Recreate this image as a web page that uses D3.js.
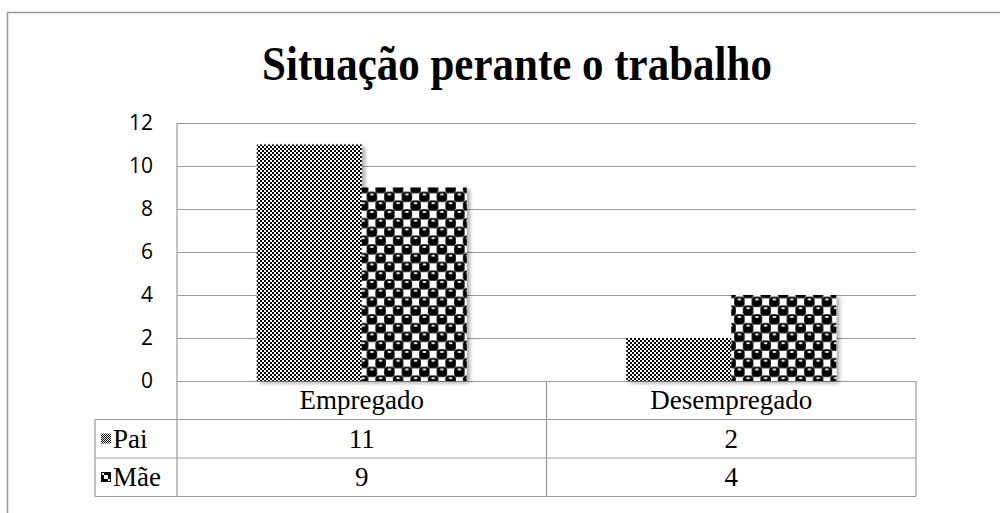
<!DOCTYPE html>
<html>
<head>
<meta charset="utf-8">
<script src="https://cdn.jsdelivr.net/npm/d3@7"></script>
<style>
  body { margin: 0; background: #fff; }
  svg { display: block; }
  .serif { font-family: "Liberation Serif", "Times New Roman", "DejaVu Serif", serif; }
</style>
</head>
<body>
<div id="container"></div>
<script>
/* DATA */
const categories = ["Empregado", "Desempregado"];
const seriesNames = ["Pai", "M\u00e3e"];
const paiValues = [11, 2];
const maeValues = [9, 4];
const yTicks = [0, 2, 4, 6, 8, 10, 12];
const title = "Situa\u00e7\u00e3o perante o trabalho";

/* CONSTANTS */
const width = 1000, height = 513;
const plot = {left: 177, right: 916, top: 123, bottom: 381};
const rowH = 38.5;
const legendLeft = 95;

const svg = d3.select("#container").append("svg")
  .attr("width", width)
  .attr("height", height);

const defs = svg.append("defs");

// fine checkerboard for Pai
const p1 = defs.append("pattern")
  .attr("id", "patPai").attr("patternUnits", "userSpaceOnUse")
  .attr("width", 4).attr("height", 4);
p1.append("rect").attr("width", 4).attr("height", 4).attr("fill", "#fff");
p1.append("rect").attr("width", 2).attr("height", 2).attr("fill", "#000");
p1.append("rect").attr("x", 2).attr("y", 2).attr("width", 2).attr("height", 2).attr("fill", "#000");

// sphere pattern for Mae
const ps = 17.5, h = ps / 2, s = 10.4;
const p2 = defs.append("pattern")
  .attr("id", "patMae").attr("patternUnits", "userSpaceOnUse")
  .attr("width", ps).attr("height", ps);
p2.append("rect").attr("width", ps).attr("height", ps).attr("fill", "#fff");
[[h / 2, h / 2], [h * 1.5, h * 1.5], [h * 1.5, -h / 2], [-h / 2, h * 1.5], [ps + h / 2, h / 2], [h / 2, ps + h / 2]].forEach(c => {
  p2.append("rect").attr("x", c[0] - s / 2).attr("y", c[1] - s / 2)
    .attr("width", s).attr("height", s).attr("rx", 3.4).attr("fill", "#000");
  p2.append("ellipse").attr("cx", c[0]).attr("cy", c[1] - 2.4).attr("rx", 2).attr("ry", 0.9).attr("fill", "#fff");
});

// small legend version
const lp1 = defs.append("pattern")
  .attr("id", "legPai").attr("patternUnits", "userSpaceOnUse")
  .attr("width", 2).attr("height", 2);
lp1.append("rect").attr("width", 2).attr("height", 2).attr("fill", "#fff");
lp1.append("rect").attr("width", 1).attr("height", 1).attr("fill", "#000");
lp1.append("rect").attr("x", 1).attr("y", 1).attr("width", 1).attr("height", 1).attr("fill", "#000");

const shadow = defs.append("filter").attr("id", "shadow")
  .attr("x", "-10%").attr("y", "-10%").attr("width", "130%").attr("height", "130%");
shadow.append("feDropShadow").attr("dx", 3).attr("dy", 2).attr("stdDeviation", 2)
  .attr("flood-color", "#000").attr("flood-opacity", 0.35);

// outer chart border
svg.append("rect")
  .attr("x", 7.5).attr("y", 12.5)
  .attr("width", 1000).attr("height", 700)
  .attr("fill", "none").attr("stroke", "#9a9a9a").attr("stroke-width", 1.5);

// title (slightly stretched vertically like the original)
svg.append("text")
  .attr("class", "serif")
  .attr("transform", "translate(517,80) scale(1,1.12)")
  .attr("text-anchor", "middle")
  .style("font-weight", "bold")
  .style("font-size", "43px")
  .text(title);

/* SCALES */
const yScale = d3.scaleLinear().domain([0, 12]).range([plot.bottom, plot.top]);
const xScale = d3.scaleBand().domain(categories).range([plot.left, plot.right])
  .paddingInner(0).paddingOuter(0);
const inner = d3.scaleBand().domain(seriesNames)
  .range([0, xScale.bandwidth()]).paddingOuter(0.76).paddingInner(0);

// gridlines
svg.append("g").selectAll("line").data(yTicks).join("line")
  .attr("x1", plot.left).attr("x2", plot.right)
  .attr("y1", d => Math.round(yScale(d)) + 0.5).attr("y2", d => Math.round(yScale(d)) + 0.5)
  .attr("stroke", "#9a9a9a").attr("stroke-width", 1.2);

// y axis labels
const yAxis = d3.axisLeft(yScale).tickValues(yTicks).tickSize(0).tickPadding(0);
const gy = svg.append("g").attr("transform", "translate(153,0)").call(yAxis);
gy.select(".domain").remove();
gy.selectAll("text")
  .style("font-family", "'Open Sans', 'Liberation Sans', sans-serif")
  .style("font-size", "21px")
  .attr("fill", "#000")
  .attr("dy", "0.33em");

// bars
const series = [
  {name: seriesNames[0], values: paiValues, fill: "url(#patPai)"},
  {name: seriesNames[1], values: maeValues, fill: "url(#patMae)"}
];
const barData = [];
series.forEach(se => categories.forEach((c, i) => barData.push({cat: c, name: se.name, v: se.values[i], fill: se.fill})));

svg.append("g").selectAll("rect").data(barData).join("rect")
  .attr("x", d => xScale(d.cat) + inner(d.name))
  .attr("y", d => yScale(d.v))
  .attr("width", inner.bandwidth())
  .attr("height", d => yScale(0) - yScale(d.v))
  .attr("fill", d => d.fill)
  .attr("filter", "url(#shadow)");

// data table
const tbl = svg.append("g")
  .attr("stroke", "#9a9a9a").attr("stroke-width", 1.2).attr("fill", "none");
const rowY = [plot.bottom, plot.bottom + rowH, plot.bottom + 2 * rowH, plot.bottom + 3 * rowH];
tbl.append("line").attr("x1", legendLeft).attr("x2", plot.right).attr("y1", rowY[1]).attr("y2", rowY[1]);
tbl.append("line").attr("x1", legendLeft).attr("x2", plot.right).attr("y1", rowY[2]).attr("y2", rowY[2]);
tbl.append("line").attr("x1", legendLeft).attr("x2", plot.right).attr("y1", rowY[3]).attr("y2", rowY[3]);
tbl.append("line").attr("x1", plot.left).attr("x2", plot.left).attr("y1", plot.top).attr("y2", rowY[3]);
tbl.append("line").attr("x1", legendLeft).attr("x2", legendLeft).attr("y1", rowY[1]).attr("y2", rowY[3]);
tbl.append("line").attr("x1", xScale(categories[1])).attr("x2", xScale(categories[1])).attr("y1", plot.bottom).attr("y2", rowY[3]);
tbl.append("line").attr("x1", plot.right).attr("x2", plot.right).attr("y1", plot.bottom).attr("y2", rowY[3]);

const fs = "27px";
svg.append("g").selectAll("text").data(categories).join("text")
  .attr("class", "serif")
  .attr("x", d => xScale(d) + xScale.bandwidth() / 2)
  .attr("y", rowY[0] + 28)
  .attr("text-anchor", "middle")
  .style("font-size", fs)
  .text(d => d);

series.forEach((se, si) => {
  const y = rowY[si + 1];
  svg.append("g").selectAll("text").data(se.values).join("text")
    .attr("class", "serif")
    .attr("x", (d, i) => xScale(categories[i]) + xScale.bandwidth() / 2)
    .attr("y", y + 28)
    .attr("text-anchor", "middle")
    .style("font-size", fs)
    .text(d => d);
  // legend key
  const kx = legendLeft + 6, ky = y + 14;
  if (si === 0) {
    svg.append("rect").attr("x", kx).attr("y", ky).attr("width", 10).attr("height", 10)
      .attr("fill", "url(#legPai)");
  } else {
    svg.append("rect").attr("x", kx).attr("y", ky).attr("width", 10).attr("height", 10).attr("fill", "#000");
    svg.append("rect").attr("x", kx + 3).attr("y", ky + 3).attr("width", 4).attr("height", 4).attr("fill", "#fff");
    svg.append("rect").attr("x", kx + 1).attr("y", ky + 1).attr("width", 2).attr("height", 2).attr("fill", "#fff");
    svg.append("rect").attr("x", kx + 7).attr("y", ky + 7).attr("width", 2).attr("height", 2).attr("fill", "#fff");
  }
  svg.append("text")
    .attr("class", "serif")
    .attr("x", kx + 12).attr("y", y + 28)
    .style("font-size", fs)
    .text(se.name);
});
</script>
</body>
</html>
